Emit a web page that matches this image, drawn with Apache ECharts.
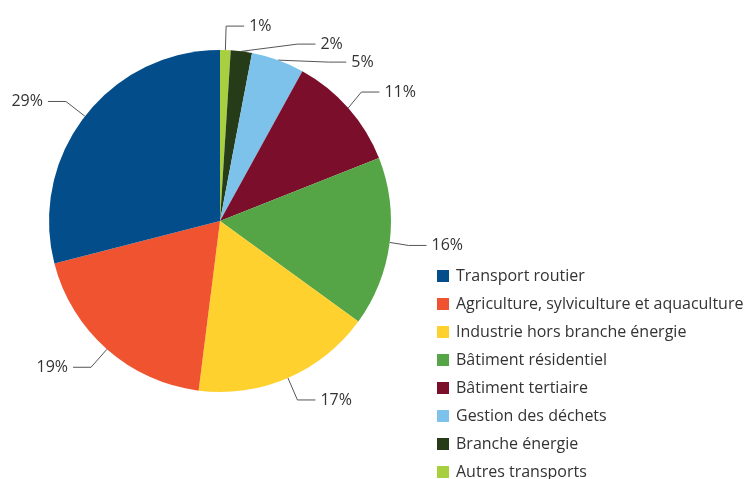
<!DOCTYPE html>
<html>
<head>
<meta charset="utf-8">
<script src="https://cdn.jsdelivr.net/npm/echarts@6/dist/echarts.min.js"></script>
<style>
  html, body { margin: 0; padding: 0; background: #fff; }
  #echart { width: 752px; height: 479px; }
</style>
</head>
<body>
<div id="echart"></div>
<script>
// slices clockwise from the top
var categories = ['Autres transports', 'Branche énergie', 'Gestion des déchets', 'Bâtiment tertiaire',
  'Bâtiment résidentiel', 'Industrie hors branche énergie', 'Agriculture, sylviculture et aquaculture', 'Transport routier'];
var values = [1, 2, 5, 11, 16, 17, 19, 29];
var colors = ['#a7cf3f', '#263b17', '#7dc2ea', '#7a0e2b', '#55a547', '#fed12f', '#f0532f', '#034e8a'];
var legendOrder = ['Transport routier', 'Agriculture, sylviculture et aquaculture', 'Industrie hors branche énergie',
  'Bâtiment résidentiel', 'Bâtiment tertiaire', 'Gestion des déchets', 'Branche énergie', 'Autres transports'];

var myChart = echarts.init(document.getElementById('echart'));
var data = [];
for (var i = 0; i < categories.length; i++) {
  data.push({ name: categories[i], value: values[i], itemStyle: { color: colors[i] } });
}
var option = {
  animation: false,
  textStyle: { fontFamily: 'Open Sans' },
  legend: {
    orient: 'vertical',
    left: 432,
    top: 263,
    height: 216,
    data: legendOrder,
    icon: 'rect',
    itemWidth: 12,
    itemHeight: 12,
    itemGap: 12,
    textStyle: { fontSize: 16, color: '#333', fontFamily: 'Open Sans', padding: [0, 0, 0, 2] }
  },
  series: [
    {
      type: 'pie',
      center: [220, 221],
      radius: [0, 171],
      startAngle: 90,
      clockwise: true,
      data: data,
      itemStyle: { borderWidth: 0 },
      label: {
        show: true,
        position: 'outside',
        formatter: '{c}%',
        fontSize: 16,
        color: '#333',
        fontFamily: 'Open Sans',
        overflow: 'none'
      },
      labelLine: {
        show: true,
        length: 24,
        length2: 18,
        lineStyle: { color: '#555', width: 1 }
      },
      emphasis: { disabled: true }
    }
  ]
};
myChart.setOption(option);
</script>
</body>
</html>
